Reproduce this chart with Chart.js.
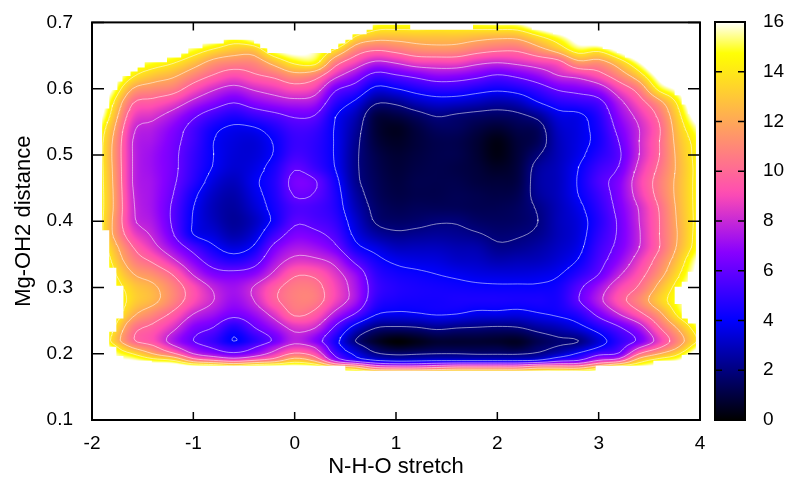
<!DOCTYPE html>
<html>
<head>
<meta charset="utf-8">
<script src="https://cdn.jsdelivr.net/npm/chart.js@4/dist/chart.umd.min.js"></script>
<style>
html,body{margin:0;padding:0;background:#fff;}
#wrap{position:relative;width:785px;height:480px;overflow:hidden;}
canvas{position:absolute;top:0;}
</style>
</head>
<body>
<div id="wrap">
<canvas id="chart" width="785" height="480" style="left:0"></canvas>
<canvas id="bar" width="85" height="480" style="left:700px"></canvas>
</div>
<script>
const xNodes=[-2,-1.8,-1.6,-1.4,-1.2,-1,-0.8,-0.6,-0.4,-0.2,0,0.2,0.4,0.6,0.8,1,1.2,1.4,1.6,1.8,2,2.2,2.4,2.6,2.8,3,3.2,3.4,3.6,3.8,4];
const yNodes=[0.70,0.68,0.66,0.64,0.62,0.60,0.58,0.56,0.54,0.52,0.50,0.48,0.46,0.44,0.42,0.40,0.38,0.36,0.34,0.32,0.30,0.28,0.26,0.24,0.22,0.21,0.20,0.19,0.18,0.17];

// one list per x node, top to bottom
const colM20=[26,25,24,23,22,21,20,19,17,16.5,16.5,16.5,16.5,16.5,16.5,16.5,16.5,17,19,20,21,21,21,20,19,20,21,22,23,24];
const colM18=[24,22,20,19,17.5,16,14.4,13.4,12.5,12,11.9,12,12.1,12.2,12.2,12,12.1,13,13.8,14.7,15.5,16,15.8,14.6,13.6,15,16,17,19,21];
const colM16=[21,20,18,16,14.3,12,10.2,9.1,8.3,8,8,8,8,8.1,8.2,8.3,9,10.1,11,12.1,13.2,13.4,12.4,10.7,10.2,11.8,14,16,18,20];
const colM14=[20,19,17,15,13,11.2,9.6,8.4,7.6,7.3,7.1,7.1,7.2,7.2,7.2,7.4,7.8,8.5,9.8,11.2,12.3,12.4,11,9.7,9.2,10.4,12,14.8,18,20];
const colM12=[19,18,16.5,14.2,12.3,10.7,8.9,7.5,6.7,6.4,6.3,6.3,6.2,6,5.8,5.8,6.1,7,8.3,9.9,10.9,10.9,9.7,8.4,7.4,8.4,10.3,14,18,19];
const colM10=[18,17.5,15.2,12.9,11,9.3,7.7,6.3,5.5,5.3,5.1,5,4.8,4.3,4,3.9,4,5.5,6.7,7.9,9.2,9.2,8,6.7,6,6.8,8,11,16.5,18];
const colM08=[18,17,14,11.5,9.9,8.2,6.8,5.3,4.3,4,4,3.9,3.5,3.1,2.9,3,3.4,4.2,5.3,6.6,7.8,8,7.2,6,5.1,5.8,7,10,16,18];
const colM06=[18,15.5,13.1,11,9.2,7.6,6.1,4.7,3.8,3.5,3.4,3.3,3,2.7,2.5,2.4,2.7,3.5,4.7,6.4,7.2,7.1,6.4,4.7,3.95,5,6.3,9.2,15,18];
const colM04=[18,17,13.2,11.1,9.8,8.2,6.8,5.2,3.9,3.4,3.4,3.6,3.8,3.6,3.3,3,3.4,4.2,5.4,6.8,8.1,8,7.1,6,4.9,5.9,7.1,10,16,18];
const colM02=[20,19,16,12.7,10.4,8.7,7.3,5.7,4.6,4.1,4.1,4.5,4.7,4.6,4.4,4.3,5.2,6.4,7.3,8.3,9.6,9.7,8.5,7.2,6.2,7.4,8.6,11,16.5,19];
const colP00=[20,19,17,14.4,11.4,9.3,7.6,6.2,5.4,5.1,5.3,5.9,6.4,6.1,5.5,5.8,6.5,7.4,8.4,9.8,10.6,10.7,10.2,8.4,7.7,8.6,10.2,13,16.5,19];
const colP02=[20,18,16,14.6,10.8,8.8,7.3,6,5.2,4.9,4.9,5.2,6.1,5.9,5.4,5.6,6.3,7.2,8.3,9.7,10.5,10.6,9.6,8.1,6.7,7.9,9.2,11.5,16,19];
const colP04=[19,18,14.1,10.8,8.5,6.3,5,4.1,3.9,3.9,3.9,4,4.4,4.6,4.7,5,5.5,6.3,7.6,8.5,9,8.9,7.6,5.8,4.5,4.8,5.6,7.3,13,18];
const colP06=[18,14.2,11.2,9,7,5.3,3.8,2.9,2.5,2.3,2.2,2.2,2.3,2.6,2.9,3.3,3.7,4.4,5.7,7,7.4,7.3,5.9,3.5,2,2.8,3.7,5.2,12,17];
const colP08=[15.5,13,10.3,7.8,5.5,3.7,2.2,1.1,0.9,1,1.2,1.3,1.4,1.5,1.7,1.9,2.6,3.6,4.4,5,5.3,5,4.1,2.1,0.7,1.3,2.2,4,9.5,16];
const colP10=[15.3,12.9,10.7,8.2,5.9,4,2.3,1.1,0.5,0.6,0.8,0.9,1,1.1,1.3,1.6,2.2,3,3.8,4.4,4.7,4.5,3.8,1.9,0.1,0.6,1.8,3.5,9,16];
const colP12=[15.3,13,11.3,8.9,6.4,4.6,3,1.6,1,0.9,1,1.1,1.2,1.2,1.4,1.7,2.3,3,3.6,4.2,4.5,4.4,3.9,2,0.4,0.8,1.9,3.6,9,16];
const colP14=[15.2,13,11.5,9,6.9,5,3.4,2.1,1.5,1.2,1.2,1.2,1.2,1.2,1.4,1.9,2.4,3,3.5,4,4.4,4.4,4.1,2.3,0.8,1.1,2,3.8,9.5,16];
const colP16=[15.2,13,11.4,9,6.8,5,3.3,1.9,1.5,1.2,1.2,1.1,1.2,1.3,1.4,1.9,2.3,2.8,3.2,3.8,4.3,4.5,4,2.1,0.8,1.1,2,3.8,10,16];
const colP18=[15.5,12.8,10.8,8.4,6.4,4.6,3,1.7,1.1,0.8,0.8,0.9,1,1.2,1.3,1.6,2.1,2.7,3.1,3.6,4.2,4.5,3.7,2,0.8,1.1,1.9,3.8,10,16];
const colP20=[15.8,12.6,10.4,8.1,5.9,4.3,2.7,1.6,0.8,0.3,0.3,0.6,0.9,1.1,1.3,1.5,1.8,2.2,2.8,3.5,4.15,4.5,3.7,1.9,0.7,1.1,1.9,3.8,10,16];
const colP22=[16,12.7,10.4,8.4,6.3,4.6,3,1.8,1.2,0.9,0.9,1,1.1,1.3,1.5,1.6,1.9,2.3,2.9,3.5,4.15,4.45,3.6,2,0.6,0.9,1.9,3.8,10,16];
const colP24=[18,14,11.5,8.9,7,5.3,4,2.4,1.5,1.4,1.9,2.4,2.5,2.4,2.1,2,2.2,2.6,3,3.6,4.15,4.5,3.9,2.5,1.3,1.6,2.2,4.1,11,16];
const colP26=[20,15.5,13,9.5,8,6.2,4.8,3.6,3.1,2.9,2.9,3,3,3,2.9,2.9,2.9,3.1,3.4,3.9,4.4,4.5,4.2,2.9,1.8,2.1,3,5.4,11,17];
const colP28=[21,17.5,15.1,11.6,8.5,6.6,5.1,3.8,3.6,3.6,3.7,4,4.1,4,3.7,3.5,3.5,3.7,4.1,4.8,5.7,5.9,4.8,3.6,2,2.7,4.2,6,11,17];
const colP30=[22,20,14.8,11.4,9.4,7.2,5.6,4.8,4.5,4.4,4.7,5.2,5.5,5.2,4.9,4.7,4.9,5.2,5.5,6,7.2,7.6,6.4,4.7,3.4,4,5.6,8,13,18];
const colP32=[23,21,17,13.1,11,9,7.6,6.9,6.4,6,5.8,6.1,6.6,6.6,6.4,6.2,6.2,6.4,6.9,7.8,8.9,9.4,8,5.9,4.9,5.3,6.2,9,15,19];
const colP34=[25,23,20,16,13.2,10.8,9.4,8.5,8,8,8,8.4,8.8,8.6,8.1,8,7.9,8,8.7,9.4,10.2,11,9.6,7.4,6.3,7.8,10,13,16,20];
const colP36=[26,25,23,20,17,14.6,11.6,10.4,9.9,10,10,10.3,10.6,10.5,10.1,10,10,10,10.7,11.4,12.5,13.2,11.6,10,8.7,9.8,12,14.8,17,21];
const colP38=[28,27,26,24,21,17,14.8,13.8,13.2,12.8,12.6,12.5,12.6,12.6,12.5,12.4,12.3,12.5,13.2,14,14.9,15.3,14.6,12.5,11.3,12.2,14,16,19,22];
const colP40=[30,29,28,27,25,23,20,18,16,15,14.9,14.8,14.8,14.8,14.8,14.8,15,15.2,16.5,17,17.5,18,17,15.5,14.5,16,18,20,22,24];
const columns=[colM20,colM18,colM16,colM14,colM12,colM10,colM08,colM06,colM04,colM02,colP00,colP02,colP04,colP06,colP08,colP10,colP12,colP14,colP16,colP18,colP20,colP22,colP24,colP26,colP28,colP30,colP32,colP34,colP36,colP38,colP40];

// stepped outline of the drawn surface
const edgeX=[-1.90,-1.90,-1.83,-1.83,-1.75,-1.75,-1.70,-1.70,-1.62,-1.62,-1.55,-1.55,-1.48,-1.48,-1.26,-1.26,-1.12,-1.12,-1.05,-1.05,-0.91,-0.91,-0.70,-0.70,-0.40,-0.40,-0.34,-0.34,-0.27,-0.27,0.36,0.36,0.43,0.43,0.50,0.50,0.57,0.57,0.71,0.71,0.77,0.77,1.14,1.14,1.76,1.76,2.34,2.34,2.55,2.55,2.76,2.76,2.90,2.90,3.04,3.04,3.18,3.18,3.26,3.26,3.40,3.40,3.47,3.47,3.54,3.54,3.61,3.61,3.68,3.68,3.75,3.75,3.82,3.82,3.88,3.88,3.96,3.96,3.88,3.88,3.82,3.82,3.75,3.75,3.82,3.82,3.88,3.88,3.96,3.96,3.82,3.82,3.54,3.54,2.97,2.97,0.50,0.50,-1.41,-1.41,-1.69,-1.69,-1.76,-1.76,-1.83,-1.83,-1.76,-1.76,-1.69,-1.69,-1.76,-1.76,-1.83,-1.83,-1.90];
const edgeY=[0.386,0.570,0.570,0.598,0.598,0.611,0.611,0.619,0.619,0.626,0.626,0.632,0.632,0.640,0.640,0.647,0.647,0.653,0.653,0.661,0.661,0.668,0.668,0.674,0.674,0.668,0.668,0.661,0.661,0.654,0.654,0.660,0.660,0.668,0.668,0.674,0.674,0.682,0.682,0.689,0.689,0.6965,0.6965,0.689,0.689,0.6965,0.6965,0.689,0.689,0.682,0.682,0.674,0.674,0.668,0.668,0.660,0.660,0.654,0.654,0.647,0.647,0.639,0.639,0.633,0.633,0.626,0.626,0.611,0.611,0.605,0.605,0.590,0.590,0.576,0.576,0.562,0.562,0.3236,0.3236,0.3086,0.3086,0.301,0.301,0.2749,0.2749,0.2533,0.2533,0.2458,0.2458,0.198,0.198,0.1894,0.1894,0.1819,0.1819,0.1743,0.1743,0.1819,0.1819,0.1894,0.1894,0.1965,0.1965,0.2105,0.2105,0.2331,0.2331,0.2533,0.2533,0.3025,0.3025,0.3296,0.3296,0.3864,0.3864];

const contourLevels=[2,4,6,8,10,12,14];
const xTickValues=[-2,-1,0,1,2,3,4];
const yTickValues=[0.1,0.2,0.3,0.4,0.5,0.6,0.7];
const barTickValues=[0,2,4,6,8,10,12,14,16];
const barRange=[0,16];

Chart.defaults.font.family='"Liberation Sans",Arial,sans-serif';
Chart.defaults.font.size=19;
Chart.defaults.color='#000';

// gnuplot rgbformulae 30,31,32
function palette(v){
    const x=Math.min(1,Math.max(0,v/16));
    const r=x/0.32-0.78125;
    const g=2*x-0.84;
    const b=x<0.25?4*x:x<0.42?1:x<0.92?-2*x+1.84:x/0.08-11.5;
    return [r,g,b].map(c=>Math.round(255*Math.min(1,Math.max(0,c))));
}

// smooth lookup between the read values
function smooth(xs,vs,x){
    const n=xs.length,dir=xs[1]-xs[0];
    let i=0;
    while(i<n-2&&(x-xs[i+1])*dir>0)i++;
    const h=xs[i+1]-xs[i];
    const t=Math.min(1,Math.max(0,(x-xs[i])/h));
    const m0=i>0?(vs[i+1]-vs[i-1])/(xs[i+1]-xs[i-1]):(vs[i+1]-vs[i])/h;
    const m1=i<n-2?(vs[i+2]-vs[i])/(xs[i+2]-xs[i]):(vs[i+1]-vs[i])/h;
    const t2=t*t,t3=t2*t;
    return (2*t3-3*t2+1)*vs[i]+(t3-2*t2+t)*h*m0+(-2*t3+3*t2)*vs[i+1]+(t3-t2)*h*m1;
}
const rows=yNodes.map((_,r)=>columns.map(c=>c[r]));
function columnAt(x){return rows.map(r=>smooth(xNodes,r,x));}

// contour segments of one level, split by gaps
function contour(level){
    const pts=[],dx=0.05,dy=0.0025;
    const nx=Math.round(6/dx),ny=Math.round(0.53/dy);
    const field=[];
    for(let i=0;i<=nx;i++){
        const col=columnAt(-2+i*dx),line=[];
        for(let j=0;j<=ny;j++)line.push(smooth(yNodes,col,0.17+j*dy));
        field.push(line);
    }
    const cross=(a,b,x0,y0,x1,y1)=>{
        const t=(level-a)/(b-a);
        return {x:x0+(x1-x0)*t,y:y0+(y1-y0)*t};
    };
    for(let i=0;i<nx;i++)for(let j=0;j<ny;j++){
        const x0=-2+i*dx,x1=x0+dx,y0=0.17+j*dy,y1=y0+dy;
        const a=field[i][j],b=field[i+1][j],c=field[i+1][j+1],d=field[i][j+1];
        const hits=[];
        if((a<level)!==(b<level))hits.push(cross(a,b,x0,y0,x1,y0));
        if((b<level)!==(c<level))hits.push(cross(b,c,x1,y0,x1,y1));
        if((c<level)!==(d<level))hits.push(cross(c,d,x1,y1,x0,y1));
        if((d<level)!==(a<level))hits.push(cross(d,a,x0,y1,x0,y0));
        for(let k=0;k+1<hits.length;k+=2)pts.push(hits[k],hits[k+1],{x:NaN,y:NaN});
    }
    return pts;
}

function maskPath(chart){
    const {ctx,scales:{x,y}}=chart;
    ctx.beginPath();
    edgeX.forEach((v,i)=>{
        const px=x.getPixelForValue(v),py=y.getPixelForValue(edgeY[i]);
        if(i)ctx.lineTo(px,py);else ctx.moveTo(px,py);
    });
    ctx.closePath();
}

const surface={
    id:'surface',
    beforeDatasetsDraw(chart){
        const {ctx,chartArea:a,scales:{x,y}}=chart;
        const w=Math.round(a.right-a.left),h=Math.round(a.bottom-a.top);
        const off=document.createElement('canvas');
        off.width=w;off.height=h;
        const oc=off.getContext('2d'),img=oc.createImageData(w,h);
        const ys=[];
        for(let j=0;j<h;j++)ys.push(y.getValueForPixel(a.top+j+0.5));
        for(let i=0;i<w;i++){
            const col=columnAt(x.getValueForPixel(a.left+i+0.5));
            for(let j=0;j<h;j++){
                const c=palette(smooth(yNodes,col,ys[j])),k=4*(j*w+i);
                img.data[k]=c[0];img.data[k+1]=c[1];img.data[k+2]=c[2];img.data[k+3]=255;
            }
        }
        oc.putImageData(img,0,0);
        ctx.save();
        maskPath(chart);
        ctx.clip();
        ctx.drawImage(off,a.left,a.top);
    },
    afterDatasetsDraw(chart){
        chart.ctx.restore();
    }
};

function frame(ctx,a){
    ctx.strokeStyle='#000';
    ctx.lineWidth=2;
    ctx.strokeRect(a.left,a.top,a.right-a.left,a.bottom-a.top);
}
const mainFrame={
    id:'mainFrame',
    afterDraw(chart){
        const {ctx,chartArea:a,scales:{x,y}}=chart;
        ctx.save();
        frame(ctx,a);
        ctx.beginPath();
        xTickValues.forEach(v=>{
            const p=x.getPixelForValue(v);
            ctx.moveTo(p,a.bottom);ctx.lineTo(p,a.bottom-8);
            ctx.moveTo(p,a.top);ctx.lineTo(p,a.top+8);
        });
        yTickValues.forEach(v=>{
            const p=y.getPixelForValue(v);
            ctx.moveTo(a.left,p);ctx.lineTo(a.left+12,p);
            ctx.moveTo(a.right,p);ctx.lineTo(a.right-12,p);
        });
        ctx.lineWidth=1.5;
        ctx.stroke();
        ctx.restore();
    }
};
const barFrame={
    id:'barFrame',
    afterDraw(chart){
        const {ctx,chartArea:a,scales:{y}}=chart;
        ctx.save();
        frame(ctx,a);
        ctx.beginPath();
        barTickValues.forEach(v=>{
            const p=y.getPixelForValue(v);
            ctx.moveTo(a.left,p);ctx.lineTo(a.left+7,p);
            ctx.moveTo(a.right,p);ctx.lineTo(a.right-7,p);
        });
        ctx.lineWidth=1.5;
        ctx.stroke();
        ctx.restore();
    }
};

new Chart("chart",{
    type:"scatter",
    data:{
        datasets:contourLevels.map(level=>({
            label:"level "+level,
            data:contour(level),
            showLine:true,
            spanGaps:false,
            pointRadius:0,
            borderColor:"rgba(255,255,255,0.75)",
            borderWidth:0.7,
            tension:0,
        })),
    },
    options:{
        responsive:false,
        animation:false,
        events:[],
        layout:{padding:{top:22,right:85,left:0,bottom:0}},
        plugins:{legend:{display:false},tooltip:{enabled:false}},
        scales:{
            x:{
                type:"linear",min:-2,max:4,
                afterBuildTicks(s){s.ticks=xTickValues.map(v=>({value:v}));},
                afterFit(s){s.height=60;},
                grid:{display:false},border:{display:false},
                ticks:{padding:4,maxRotation:0,autoSkip:false},
                title:{display:true,text:"N-H-O stretch",padding:{top:0,bottom:0},font:{size:22}},
            },
            y:{
                type:"linear",min:0.1,max:0.7,
                afterBuildTicks(s){s.ticks=yTickValues.map(v=>({value:v}));},
                afterFit(s){s.width=92;},
                grid:{display:false},border:{display:false},
                ticks:{padding:11,autoSkip:false,callback:v=>v.toFixed(1)},
                title:{display:true,text:"Mg-OH2 distance",padding:{top:11,bottom:0},font:{size:22}},
            },
        },
    },
    plugins:[surface,mainFrame],
});

new Chart("bar",{
    type:"bar",
    data:{
        labels:["z"],
        datasets:[{
            data:[barRange],
            barPercentage:1,
            categoryPercentage:1,
            backgroundColor(c){
                const a=c.chart.chartArea;
                if(!a)return "#000";
                const g=c.chart.ctx.createLinearGradient(0,a.bottom,0,a.top);
                for(let v=0;v<=64;v++){
                    const p=palette(v/4);
                    g.addColorStop(v/64,"rgb("+p.join(",")+")");
                }
                return g;
            },
        }],
    },
    options:{
        responsive:false,
        animation:false,
        events:[],
        layout:{padding:{top:22,left:15,right:0,bottom:60}},
        plugins:{legend:{display:false},tooltip:{enabled:false}},
        scales:{
            x:{display:false},
            y:{
                position:"right",min:0,max:16,
                afterBuildTicks(s){s.ticks=barTickValues.map(v=>({value:v}));},
                afterFit(s){s.width=40;},
                grid:{display:false},border:{display:false},
                ticks:{padding:10,autoSkip:false},
            },
        },
    },
    plugins:[barFrame],
});
</script>
</body>
</html>
